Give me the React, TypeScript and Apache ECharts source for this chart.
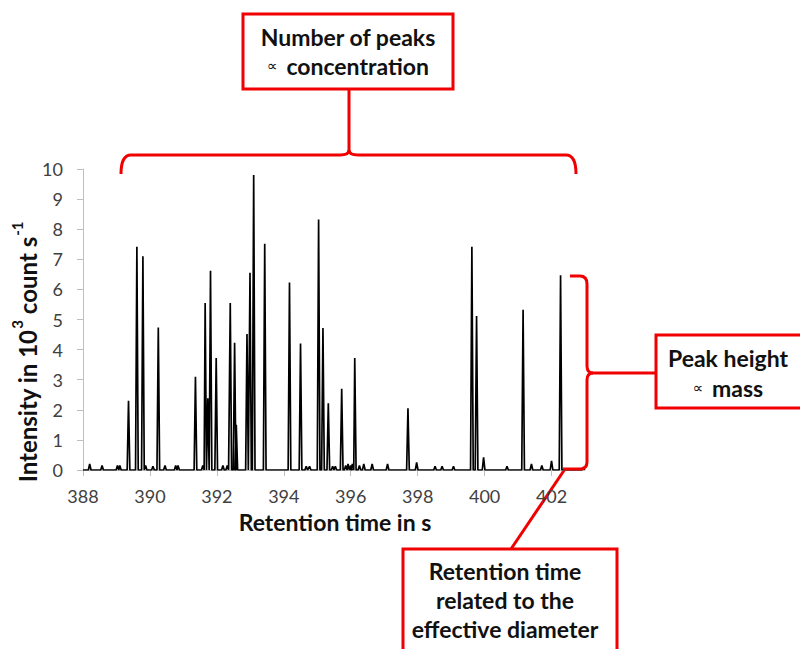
import React, { useEffect, useRef } from "react";
import * as echarts from "echarts";

// ---- Data ----
const xTicks = [388, 390, 392, 394, 396, 398, 400, 402];
const yTicks = [0, 1, 2, 3, 4, 5, 6, 7, 8, 9, 10];
const traceStart = 388;
const traceEnd = 403;
const peakTimes = [
  388.2, 388.57, 389.03, 389.1, 389.36, 389.61, 389.79, 389.87, 390.09, 390.25,
  390.45, 390.77, 390.84, 391.36, 391.58, 391.65, 391.73, 391.81, 391.98, 392.18,
  392.31, 392.4, 392.53, 392.58, 392.9, 392.99, 393.1, 393.43, 394.17, 394.5,
  394.67, 394.77, 395.04, 395.17, 395.33, 395.46, 395.54, 395.73, 395.85, 395.92,
  396.0, 396.05, 396.12, 396.26, 396.39, 396.64, 397.1, 397.71, 397.97, 398.52,
  398.73, 399.07, 399.62, 399.76, 399.97, 400.67, 401.15, 401.4, 401.71, 402.0,
  402.27, 402.95,
];
const peakHeights = [
  0.2, 0.15, 0.15, 0.15, 2.3, 7.42, 7.1, 0.15, 0.12, 4.73,
  0.15, 0.15, 0.15, 3.1, 0.15, 5.55, 2.38, 6.62, 3.72, 0.15,
  0.15, 5.55, 4.23, 1.5, 4.52, 6.55, 9.8, 7.52, 6.23, 4.2,
  0.12, 0.12, 8.32, 4.72, 2.22, 0.12, 0.12, 2.7, 0.15, 0.2,
  0.15, 0.2, 3.72, 0.15, 0.2, 0.2, 0.2, 2.05, 0.25, 0.12,
  0.12, 0.12, 7.42, 5.12, 0.42, 0.12, 5.32, 0.2, 0.15, 0.3,
  6.47, 0.1,
];
const peakHalfWidth = 0.04;

function buildTrace(): [number, number][] {
  const pts: [number, number][] = [[traceStart, 0]];
  peakTimes.forEach((t, i) => {
    pts.push([t - peakHalfWidth, 0]);
    pts.push([t, peakHeights[i]]);
    pts.push([t + peakHalfWidth, 0]);
  });
  pts.push([traceEnd, 0]);
  return pts;
}

const RED = "#f00000";
const FONT = "Lato";

echarts.graphic.registerShape(
  "braceTop",
  echarts.graphic.extendPath(
    "M121,174 Q121,155 131,155 L340,155 Q349,155 349,150 Q349,155 358,155 L566,155 Q576,155 576,174",
    {}
  )
);
echarts.graphic.registerShape(
  "braceRight",
  echarts.graphic.extendPath(
    "M570,276 L580,276 Q587,276 587,284 L587,366 Q587,373 593,373 Q587,373 587,380 L587,462 Q587,469 580,469 L563,469",
    {}
  )
);

function textEl(text: string, x: number, y: number, size: number, rich?: any, extra?: any) {
  return {
    type: "text",
    x,
    y,
    z: 20,
    ...(extra || {}),
    style: {
      text,
      fontFamily: FONT,
      fontSize: size,
      fontWeight: "bold",
      fill: "#111",
      align: "center",
      verticalAlign: "middle",
      textAlign: "center",
      textVerticalAlign: "middle",
      ...(rich ? { rich } : {}),
    },
  };
}

export default function App() {
  const ref = useRef<HTMLDivElement>(null);
  useEffect(() => {
    if (!ref.current) return;
    const chart = echarts.init(ref.current, null, { renderer: "svg" });
    const propRich = {
      p: { fontFamily: "DejaVu Sans", fontSize: 15, fontWeight: "normal", fill: "#111", padding: [0, 3, 0, 0] },
      b: { fontFamily: FONT, fontSize: 23, fontWeight: "bold", fill: "#111" },
    };
    const supRich = {
      b: { fontFamily: FONT, fontSize: 24, fontWeight: "bold", fill: "#111", lineHeight: 30, verticalAlign: "bottom" },
      s: { fontFamily: FONT, fontSize: 15, fontWeight: "bold", fill: "#111", lineHeight: 30, verticalAlign: "top", padding: [0, 0, 0, 1] },
    };
    chart.setOption({
      animation: false,
      backgroundColor: "#fff",
      grid: { left: 83, top: 169, right: 215, bottom: 179, containLabel: false },
      xAxis: {
        type: "value",
        min: xTicks[0],
        max: traceEnd,
        interval: 2,
        axisLine: { show: true, lineStyle: { color: "#bfbfbf", width: 1 } },
        axisTick: { show: true, length: 6, lineStyle: { color: "#bfbfbf" } },
        axisLabel: {
          color: "#404040",
          fontFamily: FONT,
          fontSize: 18,
          margin: 17,
          showMaxLabel: false,
          formatter: (v: number) => (xTicks.includes(v) ? String(v) : ""),
        },
        splitLine: { show: false },
      },
      yAxis: {
        type: "value",
        min: yTicks[0],
        max: yTicks[yTicks.length - 1],
        interval: 1,
        axisLine: { show: true, lineStyle: { color: "#bfbfbf", width: 1 } },
        axisTick: { show: true, length: 6, lineStyle: { color: "#bfbfbf" } },
        axisLabel: { color: "#404040", fontFamily: FONT, fontSize: 18, margin: 20 },
        splitLine: { show: false },
      },
      series: [
        {
          type: "line",
          data: buildTrace(),
          showSymbol: false,
          symbol: "none",
          lineStyle: { color: "#000", width: 1.7 },
          z: 3,
        },
      ],
      graphic: [
        // axis titles
        textEl("{b|Intensity in 10}{s|3}{b| count s}{s|-1}", 24, 352, 24, supRich, { rotation: Math.PI / 2 }),
        textEl("Retention time in s", 335, 522, 23),
        // top annotation
        { type: "braceTop", x: 0, y: 0, shape: {}, style: { fill: "none", stroke: RED, lineWidth: 3 } },
        { type: "line", shape: { x1: 349, y1: 89, x2: 349, y2: 152 }, style: { stroke: RED, lineWidth: 3 } },
        { type: "rect", shape: { x: 243, y: 14, width: 210, height: 75 }, style: { fill: "#fff", stroke: RED, lineWidth: 3 } },
        textEl("Number of peaks", 348, 37, 23),
        textEl("{p|∝} {b|concentration}", 348, 66, 23, propRich),
        // right annotation
        { type: "braceRight", x: 0, y: 0, shape: {}, style: { fill: "none", stroke: RED, lineWidth: 3 }, z: 10 },
        { type: "line", shape: { x1: 590, y1: 373, x2: 656, y2: 373 }, style: { stroke: RED, lineWidth: 3 } },
        { type: "rect", shape: { x: 656, y: 335, width: 160, height: 73 }, style: { fill: "#fff", stroke: RED, lineWidth: 3 } },
        textEl("Peak height", 728, 358, 23),
        textEl("{p|∝} {b|mass}", 728, 388, 23, propRich),
        // bottom annotation
        { type: "line", shape: { x1: 511, y1: 549, x2: 565, y2: 469 }, style: { stroke: RED, lineWidth: 3 } },
        { type: "rect", shape: { x: 403, y: 549, width: 214, height: 120 }, style: { fill: "#fff", stroke: RED, lineWidth: 3 } },
        textEl("Retention time", 505, 571, 23),
        textEl("related to the", 505, 600, 23),
        textEl("effective diameter", 505, 629, 23),
      ],
    });
    return () => chart.dispose();
  }, []);
  return (
    <div
      ref={ref}
      style={{ position: "absolute", left: 0, top: 0, width: 800, height: 649 }}
    />
  );
}
